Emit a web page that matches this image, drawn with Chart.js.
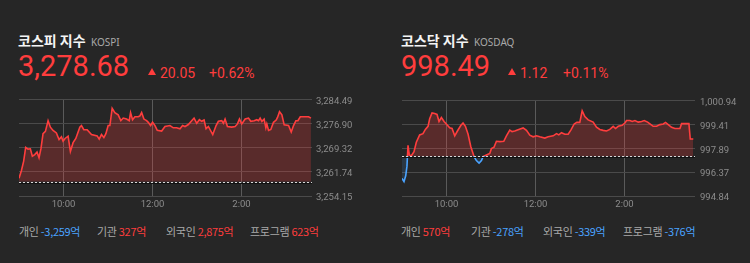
<!DOCTYPE html>
<html>
<head>
<meta charset="utf-8">
<script src="https://cdn.jsdelivr.net/npm/chart.js@4/dist/chart.umd.min.js"></script>
<style>
  html, body { margin: 0; padding: 0; background: #262626; }
  #wrap { position: relative; width: 750px; height: 263px; background: #262626; overflow: hidden; }
  .abs { position: absolute; white-space: nowrap; line-height: 1; }
  .title { font-family: "Noto Sans CJK KR", sans-serif; font-weight: 700; font-size: 14px; color: #f4f4f4; }
  .code { font-family: "Noto Sans", sans-serif; font-size: 10px; color: #a9a9a9; }
  .big { font-family: Roboto, sans-serif; font-size: 29px; color: #ff3d3d; }
  .chg { font-family: Roboto, sans-serif; font-size: 14px; color: #ff3d3d; }
  .tri { width: 0; height: 0; border-left: 4.5px solid transparent; border-right: 4.5px solid transparent; border-bottom: 7px solid #ff3d3d; }
  .flow { font-family: "Noto Sans CJK KR", sans-serif; font-size: 11px; color: #a9a9a9; letter-spacing: -0.3px; }
  .up { color: #ff3d3d; }
  .down { color: #4aa3ff; }
  canvas { position: absolute; top: 90px; }
</style>
</head>
<body>
<div id="wrap">
  <div class="abs title" style="left:18px; top:33px;">코스피 지수</div>
  <div class="abs code" style="left:91px; top:37px;">KOSPI</div>
  <div class="abs big" style="left:18px; top:52px;">3,278.68</div>
  <div class="abs tri" style="left:148px; top:68px;"></div>
  <div class="abs chg" style="left:160px; top:65.5px;">20.05</div>
  <div class="abs chg" style="left:209px; top:65.5px;">+0.62%</div>

  <div class="abs title" style="left:401px; top:33px;">코스닥 지수</div>
  <div class="abs code" style="left:474px; top:37px;">KOSDAQ</div>
  <div class="abs big" style="left:401px; top:52px;">998.49</div>
  <div class="abs tri" style="left:508px; top:68px;"></div>
  <div class="abs chg" style="left:520px; top:65.5px;">1.12</div>
  <div class="abs chg" style="left:563px; top:65.5px;">+0.11%</div>

  <canvas id="kospi" width="375" height="126" style="left:0; width:375px; height:126px;"></canvas>
  <canvas id="kosdaq" width="375" height="126" style="left:375px; width:375px; height:126px;"></canvas>

  <div id="flowKospi"></div>
  <div id="flowKosdaq"></div>
</div>

<script>
// x = minutes after 9:00
const xTickValues = [60, 180, 300];
const xTickLabels = ['10:00', '12:00', '2:00'];

const kospiPrevClose = 3258.63;
const kospiYTicks = [3254.15, 3261.74, 3269.32, 3276.90, 3284.49];
const kospiTimes = [0, 3.2, 6.3, 9.0, 12.2, 15.3, 18.0, 21.2, 24.3, 27.0, 29.7, 32.4, 35.6, 39.2, 42.3, 45.9, 50.4, 54.0, 57.2, 59.4,
  62.1, 66.2, 69.3, 72.9, 76.6, 82.0, 84.2, 87.4, 91.9, 97.7, 105.4, 108.1, 111.2, 114.4, 117.1, 120.2, 122.5, 125.6, 129.2, 133.7,
  137.3, 140.5, 145.0, 148.6, 150.4, 153.1, 156.3, 160.8, 163.0, 165.3, 168.4, 172.0, 174.3, 177.4, 180.1, 183.3, 186.4, 192.3, 196.8, 203.5,
  208.0, 212.5, 217.0, 220.6, 223.8, 228.3, 232.8, 236.0, 239.6, 243.2, 246.3, 249.5, 252.2, 255.3, 261.2, 265.7, 268.8, 273.3, 275.6, 277.8,
  281.0, 286.8, 291.3, 294.5, 297.2, 300.3, 304.9, 309.4, 312.5, 317.0, 320.6, 322.9, 325.1, 327.4, 330.5, 332.8, 334.1, 336.4, 339.5, 343.1,
  346.7, 348.5, 351.2, 354.4, 357.5, 363.4, 367.0, 370.1, 373.3, 376.0, 379.2, 385.9, 390.4, 393.6];
const kospiValues = [3259.75, 3262.09, 3265.15, 3269.43, 3268.92, 3269.02, 3266.68, 3267.19, 3268.00, 3266.17, 3269.22, 3273.81, 3274.52, 3277.88, 3275.84, 3274.82, 3274.01, 3271.97, 3272.79, 3271.46,
  3272.28, 3272.99, 3268.20, 3270.95, 3272.28, 3275.84, 3276.35, 3275.03, 3275.03, 3273.50, 3273.09, 3272.08, 3273.50, 3272.58, 3273.81, 3276.35, 3276.35, 3281.75, 3280.43, 3279.71,
  3277.88, 3278.70, 3278.39, 3277.88, 3280.43, 3278.19, 3279.10, 3279.10, 3279.41, 3280.43, 3278.39, 3277.88, 3277.37, 3276.35, 3277.37, 3276.35, 3274.82, 3274.62, 3276.05, 3276.35,
  3275.64, 3275.64, 3275.33, 3276.35, 3276.05, 3276.66, 3277.88, 3278.70, 3277.07, 3278.19, 3277.68, 3278.09, 3275.33, 3276.05, 3273.50, 3276.35, 3277.68, 3277.88, 3277.07, 3278.39,
  3276.05, 3275.84, 3276.05, 3276.86, 3278.39, 3276.86, 3278.39, 3278.70, 3277.68, 3277.88, 3278.19, 3277.88, 3278.70, 3277.68, 3278.39, 3275.64, 3276.86, 3274.82, 3275.13, 3277.37,
  3278.09, 3278.90, 3280.73, 3279.71, 3276.56, 3276.35, 3274.32, 3276.35, 3277.88, 3277.88, 3279.10, 3279.10, 3279.10, 3278.68];

const kosdaqPrevClose = 997.37;
const kosdaqYTicks = [994.84, 996.37, 997.89, 999.41, 1000.94];
const kosdaqTimes = [0, 2.7, 5.0, 6.7, 8.1, 9.9, 12.6, 16.2, 19.3, 23.8, 28.3, 31.5, 35.1, 37.3, 40.5, 44.1, 47.2, 49.9, 53.1, 56.7,
  59.8, 64.3, 67.5, 71.1, 74.7, 79.2, 82.3, 85.5, 89.1, 92.7, 97.2, 100.3, 103.9, 107.1, 109.3, 113.8, 118.3, 120.5, 124.1, 127.3,
  131.8, 137.2, 140.8, 145.3, 148.4, 152.0, 157.4, 163.3, 167.8, 172.3, 176.8, 181.3, 185.8, 192.5, 197.0, 203.8, 208.3, 211.4, 215.0, 219.5,
  224.0, 227.6, 232.1, 235.7, 239.7, 242.9, 246.5, 251.0, 257.7, 262.2, 266.7, 271.2, 275.7, 280.2, 284.7, 287.9, 291.5, 296.9, 300.5, 302.7,
  307.2, 310.4, 314.0, 318.5, 323.0, 326.6, 331.1, 335.6, 338.7, 343.2, 347.7, 352.2, 355.3, 358.9, 363.4, 367.9, 374.7, 376.9, 382.3, 386.8,
  388.6, 392.7];
const kosdaqValues = [995.97, 995.76, 996.13, 996.75, 998.08, 997.46, 997.42, 997.67, 998.28, 998.75, 998.83, 999.10, 999.30, 999.78, 1000.16, 1000.12, 1000.06, 999.61, 999.86, 999.61,
  999.45, 999.20, 999.16, 998.69, 999.00, 999.35, 999.51, 999.30, 998.79, 998.01, 997.36, 997.11, 996.95, 997.11, 997.36, 997.46, 997.56, 997.87, 997.97, 998.34,
  998.32, 998.34, 998.69, 999.06, 998.96, 999.00, 999.10, 999.20, 999.04, 998.73, 998.63, 998.69, 998.63, 998.55, 998.63, 998.69, 998.83, 998.75, 998.89, 998.79,
  998.79, 999.06, 999.45, 999.55, 999.55, 1000.29, 999.92, 999.71, 999.57, 999.24, 999.10, 999.04, 999.00, 999.10, 999.30, 999.16, 999.30, 999.37, 999.51, 999.67,
  999.67, 999.61, 999.67, 999.57, 999.61, 999.67, 999.57, 999.41, 999.30, 999.30, 999.41, 999.45, 999.55, 999.41, 999.24, 999.16, 999.16, 999.47, 999.47, 999.47,
  998.49, 998.49];

// 투자자별 매매동향 (억)
const flowLabels = ['개인', '기관', '외국인', '프로그램'];
const kospiFlows = [-3259, 327, 2875, 623];
const kosdaqFlows = [570, -278, -339, -376];

const UP = '#ff3d3d';
const DOWN = '#4aa3ff';

// 전일 종가 점선
const baselinePlugin = {
  id: 'baseline',
  afterDatasetsDraw(chart, args, opts) {
    const { ctx, chartArea, scales } = chart;
    const y = Math.round(scales.y.getPixelForValue(opts.value)) + 0.5;
    ctx.save();
    ctx.strokeStyle = '#111';
    ctx.lineWidth = 1;
    ctx.beginPath();
    ctx.moveTo(chartArea.left, y + 1);
    ctx.lineTo(chartArea.right, y + 1);
    ctx.stroke();
    ctx.strokeStyle = '#d8d8d8';
    ctx.setLineDash([2, 2]);
    ctx.beginPath();
    ctx.moveTo(chartArea.left, y);
    ctx.lineTo(chartArea.right, y);
    ctx.stroke();
    ctx.restore();
  }
};

function splitColor(base) {
  return (context) => {
    const chart = context.chart;
    const { chartArea, scales } = chart;
    if (!chartArea) return UP;
    const y = scales.y.getPixelForValue(base);
    const stop = Math.min(Math.max((y - chartArea.top) / (chartArea.bottom - chartArea.top), 0), 1);
    const g = chart.ctx.createLinearGradient(0, chartArea.top, 0, chartArea.bottom);
    g.addColorStop(0, UP);
    g.addColorStop(stop, UP);
    g.addColorStop(stop, DOWN);
    g.addColorStop(1, DOWN);
    return g;
  };
}

function makeChart(canvasId, times, values, prevClose, yTicks, padLeft, axisWidth, labelPad) {
  const canvas = document.getElementById(canvasId);
  return new Chart(canvas.getContext('2d'), {
    type: 'line',
    data: {
      datasets: [{
        data: times.map((t, i) => ({ x: t, y: values[i] })),
        borderColor: splitColor(prevClose),
        borderWidth: 1.6,
        pointRadius: 0,
        tension: 0,
        fill: {
          target: { value: prevClose },
          above: 'rgba(255, 61, 61, 0.24)',
          below: 'rgba(74, 163, 255, 0.14)',
        },
      }]
    },
    options: {
      responsive: false,
      animation: false,
      layout: { padding: { left: padLeft, top: 7, right: 0, bottom: 0 } },
      plugins: {
        legend: { display: false },
        tooltip: { enabled: false },
        baseline: { value: prevClose },
      },
      scales: {
        x: {
          type: 'linear',
          min: 0,
          max: 395,
          afterBuildTicks: (scale) => { scale.ticks = xTickValues.map(v => ({ value: v })); },
          afterFit: (scale) => { scale.height = 20; },
          border: { display: false },
          grid: { color: '#5a5a5a', drawTicks: false },
          ticks: {
            padding: 3,
            color: '#8c8c8c',
            font: { family: 'Roboto', size: 9.5 },
            maxRotation: 0,
            autoSkip: false,
            callback: (value, index) => xTickLabels[index],
          }
        },
        y: {
          position: 'right',
          min: yTicks[0],
          max: yTicks[yTicks.length - 1],
          afterBuildTicks: (scale) => { scale.ticks = yTicks.map(v => ({ value: v })); },
          afterFit: (scale) => { scale.width = axisWidth; },
          border: { display: false },
          grid: { color: '#4a4a4a', drawTicks: false },
          ticks: {
            padding: labelPad,
            labelOffset: 2,
            color: '#8c8c8c',
            font: { family: 'Roboto', size: 9.5 },
            callback: (value) => Number(value).toLocaleString('en-US', { minimumFractionDigits: 2, maximumFractionDigits: 2 }),
          }
        }
      }
    },
    plugins: [baselinePlugin]
  });
}

makeChart('kospi', kospiTimes, kospiValues, kospiPrevClose, kospiYTicks, 19, 63, 4);
makeChart('kosdaq', kosdaqTimes, kosdaqValues, kosdaqPrevClose, kosdaqYTicks, 27, 55, 5);

// 하단 수급 표시
function renderFlows(containerId, flows, lefts) {
  const box = document.getElementById(containerId);
  flows.forEach((v, i) => {
    const el = document.createElement('div');
    el.className = 'abs flow';
    el.style.left = lefts[i] + 'px';
    el.style.top = '226px';
    const cls = v < 0 ? 'down' : 'up';
    el.innerHTML = flowLabels[i] + ' <span class="' + cls + '">' + v.toLocaleString('en-US') + '억</span>';
    box.appendChild(el);
  });
}
renderFlows('flowKospi', kospiFlows, [19, 97, 166, 250]);
renderFlows('flowKosdaq', kosdaqFlows, [401, 471, 543, 623]);
</script>
</body>
</html>
